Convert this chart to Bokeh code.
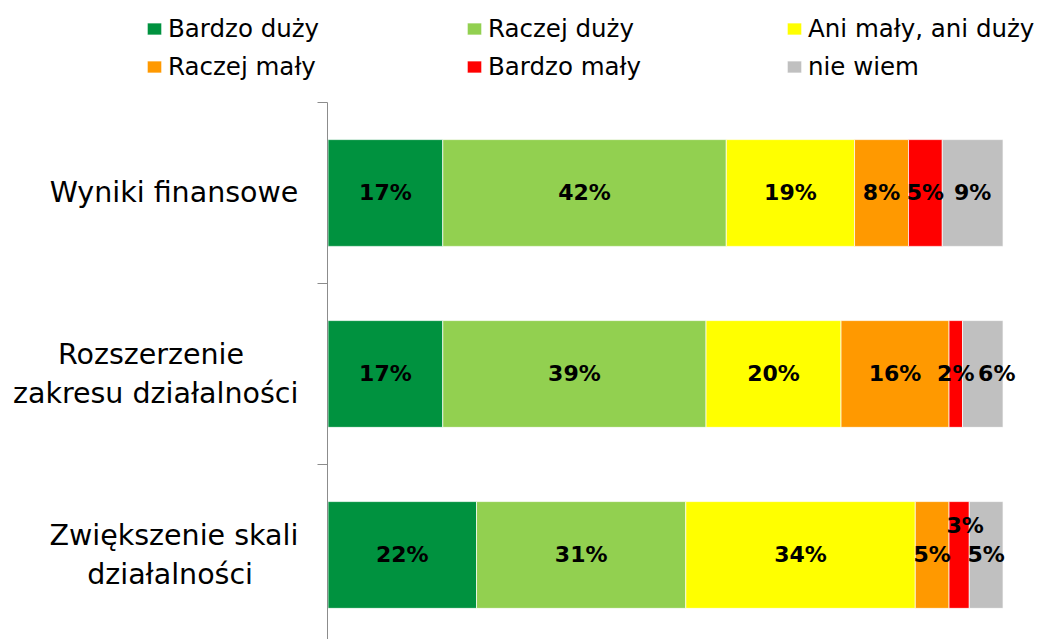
from bokeh.plotting import figure
from bokeh.models import (ColumnDataSource, Range1d, FixedTicker, Legend, LegendItem,
                          LinearAxis)
from bokeh.core.properties import value
from bokeh.embed import file_html
from bokeh.resources import INLINE

# ---- data ----
categories = ["Wyniki finansowe", "Rozszerzenie\nzakresu działalności", "Zwiększenie skali\ndziałalności"]
series = ["Bardzo duży", "Raczej duży", "Ani mały, ani duży", "Raczej mały", "Bardzo mały", "nie wiem"]
bardzo_duzy = [17, 17, 22]
raczej_duzy = [42, 39, 31]
ani_maly_ani_duzy = [19, 20, 34]
raczej_maly = [8, 16, 5]
bardzo_maly = [5, 2, 3]
nie_wiem = [9, 6, 5]
series_values = [bardzo_duzy, raczej_duzy, ani_maly_ani_duzy, raczej_maly, bardzo_maly, nie_wiem]
colors = ["#00923F", "#92D050", "#FFFF00", "#FF9900", "#FF0000", "#C0C0C0"]

# ---- figure ----
n = len(categories)
ypos = [n - 1 - i for i in range(n)]  # first category on top

p = figure(width=1045, height=639, output_backend="svg", toolbar_location=None,
           x_range=Range1d(-48.52, 106.29), y_range=Range1d(-0.467, 3.0635),
           x_axis_location=None, y_axis_location=None, min_border=0)
p.grid.visible = False
p.outline_line_color = None
p.background_fill_color = "white"
p.border_fill_color = "white"

# centre the lines of the multi-line category labels (axis right-aligns them)
line_pad = {"Rozszerzenie": 6, "działalności": 5}
def centred(label):
    return "\n".join(l + "\u00a0" * line_pad.get(l, 0) if "\n" in label else l
                     for l in label.split("\n"))

ax = LinearAxis(fixed_location=-0.1, bounds=(-1, n - 0.5))
ax.ticker = FixedTicker(ticks=ypos, minor_ticks=[y + 0.5 for y in ypos])
ax.major_label_overrides = {y: centred(c) for y, c in zip(ypos, categories)}
ax.axis_line_color = "#8C8C8C"
ax.axis_line_width = 1
ax.major_tick_out = 0
ax.major_tick_in = 0
ax.minor_tick_out = 10
ax.minor_tick_in = 0
ax.minor_tick_line_color = "#8C8C8C"
ax.major_label_text_font = "DejaVu Sans"
ax.major_label_text_font_size = "28.5px"
ax.major_label_text_color = "black"
ax.major_label_standoff = 19
p.add_layout(ax, "left")

# label nudges (screen px) for crowded small segments: (category index, series index) -> (dx, dy)
nudges = {(1, 5): (14, 0), (2, 4): (6, -29)}

items = []
lx, ly, lt, lxo, lyo = [], [], [], [], []
left = [0.0] * n
for s, (name, vals, col) in enumerate(zip(series, series_values, colors)):
    right = [l + v for l, v in zip(left, vals)]
    src = ColumnDataSource(dict(y=ypos, left=left, right=right))
    r = p.hbar(y="y", left="left", right="right", height=0.59, source=src,
               fill_color=col, line_color="white", line_width=1, line_alpha=0.7)
    items.append(LegendItem(label=name, renderers=[r]))
    for i in range(n):
        lx.append((left[i] + right[i]) / 2)
        ly.append(ypos[i])
        lt.append(f"{vals[i]}%")
        dx, dy = nudges.get((i, s), (0, 0))
        lxo.append(dx)
        lyo.append(dy)
    left = right

lsrc = ColumnDataSource(dict(x=lx, y=ly, text=lt, xo=lxo, yo=lyo))
p.text(x="x", y="y", text="text", x_offset="xo", y_offset="yo", source=lsrc,
       text_align="center", text_baseline="middle",
       text_font=value("DejaVu Sans"), text_font_style="bold",
       text_font_size="22px", text_color="black")

legend = Legend(items=items, location=(145, 558), orientation="horizontal", ncols=3,
                glyph_width=18, glyph_height=15, label_standoff=5,
                label_width=289, label_height=30, spacing=8, padding=0, margin=0,
                border_line_color=None, background_fill_alpha=0,
                label_text_font="DejaVu Sans", label_text_font_size="24.5px",
                label_text_color="black")
p.add_layout(legend)

open("out.html", "w").write(file_html(p, INLINE))
